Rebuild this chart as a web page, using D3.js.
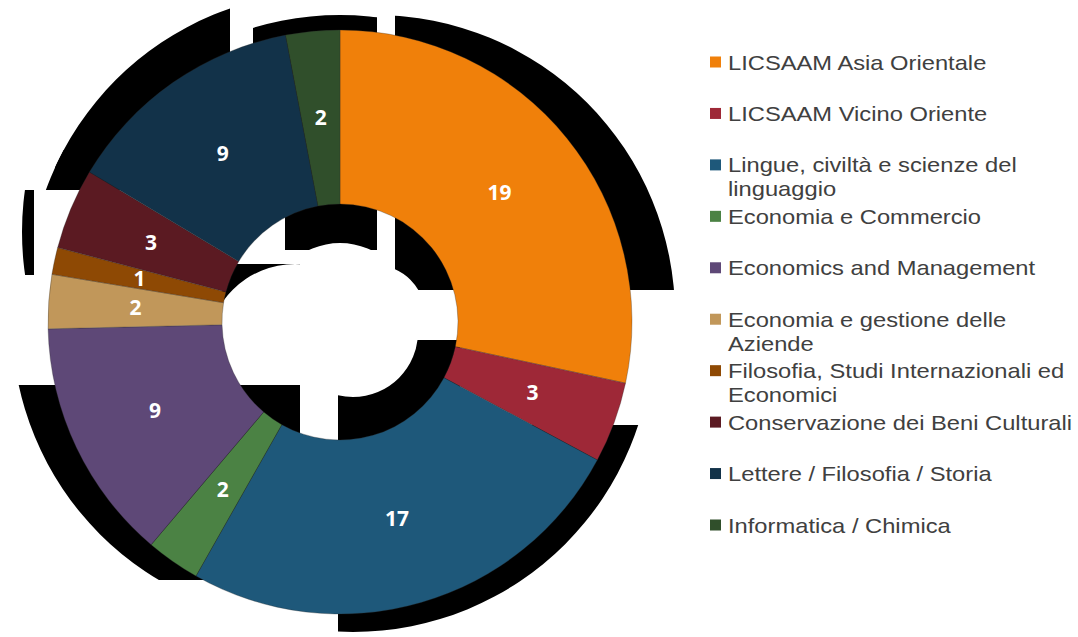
<!DOCTYPE html>
<html>
<head>
<meta charset="utf-8">
<script src="https://cdn.jsdelivr.net/npm/d3@7"></script>
<style>
  body { margin: 0; background: #fff; }
  svg { display: block; }
</style>
</head>
<body>
<script>
// Data
var categories = [
  "LICSAAM Asia Orientale",
  "LICSAAM Vicino Oriente",
  "Lingue, civiltà e scienze del\nlinguaggio",
  "Economia e Commercio",
  "Economics and Management",
  "Economia e gestione delle\nAziende",
  "Filosofia, Studi Internazionali ed\nEconomici",
  "Conservazione dei Beni Culturali",
  "Lettere / Filosofia / Storia",
  "Informatica / Chimica"
];
var values = [19, 3, 17, 2, 9, 2, 1, 3, 9, 2];
var colors = ["#F0800A", "#9E2837", "#1E587A", "#4B8244", "#5E4877",
              "#C1975A", "#8E4904", "#5B1A22", "#123249", "#304F2B"];

var width = 1078, height = 637;
var cx = 340, cy = 322, outerR = 292, innerR = 118;

var svg = d3.select("body").append("svg")
    .attr("width", width)
    .attr("height", height);

var defs = svg.append("defs");

// Shadow (broken black tiles behind the ring)
// [x0, x1, y0, y1, dx, dy, inner radius]
var tiles = [
  [55, 230, 0, 190, -12, -30, 70],
  [35, 230, 150, 190, -12, -30, 70],
  [20, 34, 190, 275, -18, -90, 70],
  [253, 377, 0, 205, 0, -7, 72],
  [285, 377, 205, 250, 0, -7, 72],
  [395, 700, 0, 290, 35, -7, 50],
  [222, 300, 264, 300, -45, 30, 88],
  [0, 300, 385, 580, -28, 0, 60],
  [338, 700, 425, 637, 13, 10, 65],
  [338, 460, 340, 425, 13, 10, 65]
];

var shadow = svg.append("g").attr("class", "shadow");
tiles.forEach(function(t, i) {
  defs.append("clipPath")
      .attr("id", "tile" + i)
    .append("rect")
      .attr("x", t[0]).attr("y", t[2])
      .attr("width", t[1] - t[0]).attr("height", t[3] - t[2]);
  var a = d3.arc().innerRadius(t[6]).outerRadius(300).startAngle(0).endAngle(2 * Math.PI);
  shadow.append("g")
      .attr("clip-path", "url(#tile" + i + ")")
    .append("path")
      .attr("transform", "translate(" + (cx + t[4]) + "," + (cy + t[5]) + ")")
      .attr("d", a())
      .attr("fill", "#000");
});

// Donut
var pie = d3.pie().sort(null).value(function(d) { return d; });
var arc = d3.arc().innerRadius(innerR).outerRadius(outerR);
var labelArc = d3.arc().innerRadius((innerR + outerR) / 2).outerRadius((innerR + outerR) / 2);

var g = svg.append("g").attr("transform", "translate(" + cx + "," + cy + ")");

g.selectAll(".slice")
    .data(pie(values))
    .enter().append("path")
    .attr("class", "slice")
    .attr("d", arc)
    .attr("fill", function(d, i) { return colors[i]; })
    .attr("stroke", "rgba(40,40,40,0.6)")
    .attr("stroke-width", 0.5);

g.selectAll(".lbl")
    .data(pie(values))
    .enter().append("text")
    .attr("class", "lbl")
    .attr("transform", function(d) { return "translate(" + labelArc.centroid(d) + ")"; })
    .attr("dy", "0.35em")
    .attr("text-anchor", "middle")
    .attr("font-family", "'Open Sans', sans-serif")
    .attr("font-weight", "bold")
    .attr("font-size", "21px")
    .attr("fill", "#fff")
    .text(function(d) { return d.value; });

// Legend
var legendY = d3.scaleLinear().domain([0, categories.length - 1]).range([62, 525]);

var legend = svg.append("g").attr("class", "legend");
var item = legend.selectAll(".item")
    .data(categories)
    .enter().append("g")
    .attr("class", "item")
    .attr("transform", function(d, i) { return "translate(710," + legendY(i) + ")"; });

item.append("rect")
    .attr("x", 0).attr("y", -5.5)
    .attr("width", 11).attr("height", 11)
    .attr("fill", function(d, i) { return colors[i]; });

// text in the source is a bit wider than Arial at this size
item.append("text")
    .attr("transform", "translate(18,0) scale(1.13,1)")
    .attr("font-family", "'Liberation Sans', Arial, sans-serif")
    .attr("font-size", "21px")
    .attr("fill", "#404040")
    .each(function(d) {
      var t = d3.select(this);
      d.split("\n").forEach(function(line, j) {
        t.append("tspan")
          .attr("x", 0)
          .attr("y", 7.5 + j * 24)
          .text(line);
      });
    });
</script>
</body>
</html>
